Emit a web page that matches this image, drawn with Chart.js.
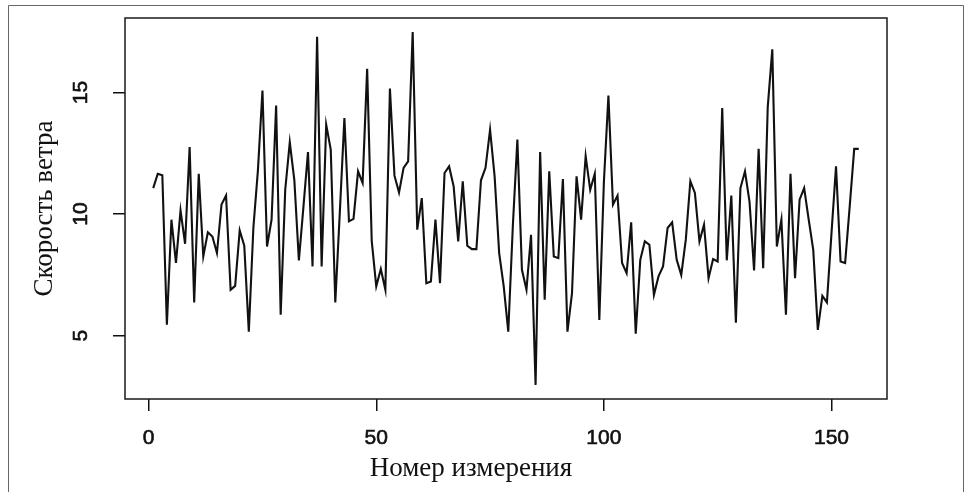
<!DOCTYPE html>
<html>
<head>
<meta charset="utf-8">
<script src="https://cdn.jsdelivr.net/npm/chart.js@4.4.1/dist/chart.umd.min.js"></script>
<style>
  html, body { margin: 0; padding: 0; background: #fff; }
  #wrap { width: 965px; height: 492px; position: relative; }
</style>
</head>
<body>
<div id="wrap"><canvas id="windChart"></canvas></div>
<script>
const windSpeed = [
  11.07, 11.66, 11.6, 5.45, 9.77, 7.99, 10.15, 8.78, 12.76, 6.37,
  11.66, 8.26, 9.25, 9.08, 8.4, 10.39, 10.76, 6.89, 7.05, 9.33,
  8.7, 5.17, 9.43, 11.8, 15.08, 8.67, 9.77, 14.46, 5.86, 11.0,
  12.95, 11.4, 8.1, 10.3, 12.55, 7.85, 17.29, 7.85, 13.68, 12.65,
  6.37, 10.1, 13.95, 9.7, 9.8, 11.76, 11.28, 15.97, 8.9, 7.03,
  7.74, 6.89, 15.16, 11.58, 10.89, 11.9, 12.17, 17.48, 9.36, 10.66,
  7.16, 7.23, 9.77, 7.16, 11.69, 11.96, 11.14, 8.88, 11.35, 8.7,
  8.56, 8.56, 11.39, 11.9, 13.47, 11.55, 8.4, 7.03, 5.17, 9.5,
  13.06, 7.71, 6.89, 9.15, 2.98, 12.55, 6.48, 11.76, 8.26, 8.19,
  11.44, 5.17, 6.75, 11.55, 9.77, 12.38, 11.0, 11.66, 5.65, 11.3,
  14.87, 10.39, 10.76, 7.99, 7.57, 9.66, 5.08, 8.12, 8.88, 8.74,
  6.68, 7.44, 7.85, 9.43, 9.66, 8.12, 7.5, 8.95, 11.35, 10.87,
  8.88, 9.56, 7.37, 8.15, 8.05, 14.36, 8.1, 10.76, 5.54, 11.07,
  11.76, 10.5, 7.68, 12.68, 7.78, 14.4, 16.77, 8.67, 9.77, 5.86,
  11.66, 7.37, 10.59, 11.07, 9.77, 8.53, 5.24, 6.64, 6.37, 9.2,
  11.96, 8.05, 7.99, 10.3, 12.68, 12.68
];
const xTicks = [0, 50, 100, 150];
const yTicks = [5, 10, 15];
const xTitle = 'Номер измерения';
const yTitle = 'Скорость ветра';

const points = windSpeed.map((v, i) => ({ x: i + 1, y: v }));

// R-style 4% range extension
const n = windSpeed.length;
const xPad = 0.04 * (n - 1);
const yMin = Math.min(...windSpeed), yMax = Math.max(...windSpeed);
const yPad = 0.04 * (yMax - yMin);

const TICK_FONT = '21px "Liberation Sans", Arial, sans-serif';
const TITLE_FONT = '27px "Liberation Serif", "Times New Roman", serif';

// slightly heavy text, like the upscaled R output
function heavyText(ctx, txt, x, y) {
  ctx.fillText(txt, x, y);
  ctx.strokeText(txt, x, y);
}

// box, outer frame, tick labels and axis titles
const framePlugin = {
  id: 'frame',
  afterDraw(chart) {
    const { ctx, chartArea: a, scales } = chart;
    ctx.save();

    ctx.strokeStyle = '#666';
    ctx.lineWidth = 1;
    ctx.beginPath();
    ctx.moveTo(8.5, 492);
    ctx.lineTo(8.5, 5.5);
    ctx.lineTo(963.5, 5.5);
    ctx.lineTo(963.5, 492);
    ctx.stroke();

    ctx.strokeStyle = '#1a1a1a';
    ctx.lineWidth = 1.5;
    ctx.strokeRect(a.left, a.top, a.right - a.left, a.bottom - a.top);

    ctx.fillStyle = '#111';
    ctx.strokeStyle = '#111';
    ctx.lineWidth = 0.6;
    ctx.font = TICK_FONT;
    ctx.textAlign = 'center';
    ctx.textBaseline = 'middle';
    xTicks.forEach(v => {
      heavyText(ctx, String(v), scales.x.getPixelForValue(v), 438);
    });
    yTicks.forEach(v => {
      const y = scales.y.getPixelForValue(v);
      ctx.save();
      ctx.translate(81, y);
      ctx.rotate(-Math.PI / 2);
      heavyText(ctx, String(v), 0, 0);
      ctx.restore();
    });

    ctx.font = TITLE_FONT;
    ctx.textBaseline = 'alphabetic';
    ctx.fillText(xTitle, 471, 476);

    ctx.save();
    ctx.translate(52, (a.top + a.bottom) / 2);
    ctx.rotate(-Math.PI / 2);
    ctx.fillText(yTitle, 0, 0);
    ctx.restore();

    ctx.restore();
  }
};

const ctx = document.getElementById('windChart').getContext('2d');
const windChart = new Chart(ctx, {
  type: 'line',
  data: {
    datasets: [{
      data: points,
      borderColor: '#111',
      borderWidth: 2.1,
      pointRadius: 0,
      tension: 0,
      fill: false
    }]
  },
  options: {
    responsive: true,
    maintainAspectRatio: false,
    animation: false,
    layout: { padding: { top: 18, right: 78, left: 0, bottom: 0 } },
    scales: {
      x: {
        type: 'linear',
        min: 1 - xPad,
        max: n + xPad,
        afterBuildTicks: s => { s.ticks = xTicks.map(v => ({ value: v })); },
        afterFit: s => { s.height = 93; },
        border: { display: false },
        grid: {
          display: true,
          drawOnChartArea: false,
          drawTicks: true,
          tickLength: 12,
          color: '#111',
          lineWidth: 1.5
        },
        ticks: { display: false }
      },
      y: {
        type: 'linear',
        min: yMin - yPad,
        max: yMax + yPad,
        afterBuildTicks: s => { s.ticks = yTicks.map(v => ({ value: v })); },
        afterFit: s => { s.width = 125; },
        border: { display: false },
        grid: {
          display: true,
          drawOnChartArea: false,
          drawTicks: true,
          tickLength: 12,
          color: '#111',
          lineWidth: 1.5
        },
        ticks: { display: false }
      }
    },
    plugins: {
      legend: { display: false },
      tooltip: { enabled: false }
    }
  },
  plugins: [framePlugin]
});
</script>
</body>
</html>
